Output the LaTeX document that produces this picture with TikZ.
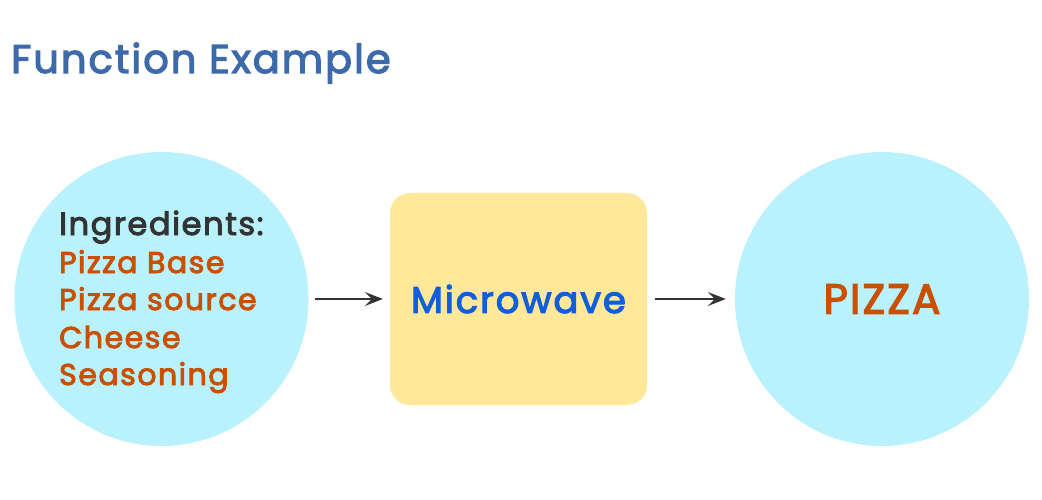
\documentclass[tikz,border=0pt]{standalone}
\usepackage{fontspec}
\setmainfont{Poppins}[LetterSpace=5, FakeBold=3]
\usetikzlibrary{arrows.meta}
\definecolor{titleblue}{HTML}{3D6AAA}
\definecolor{bubble}{HTML}{B9F1FD}
\definecolor{oven}{HTML}{FFE899}
\definecolor{sauce}{HTML}{C85000}
\definecolor{wave}{HTML}{0F5EDC}
\definecolor{ink}{HTML}{333333}
\tikzset{
  ball/.style={circle, fill=bubble, minimum size=294pt, inner sep=0pt},
  txt/.style={anchor=base west, inner sep=0pt},
  flow/.style={-{Stealth[length=18pt,width=14pt,inset=7pt]}, line width=2pt, color=ink}
}

\begin{document}
\begin{tikzpicture}[x=1pt, y=-1pt]
			%%%%% START %%%%%
			\useasboundingbox (0, 0) rectangle (1042, 500);

			\node[txt, color=titleblue, font=\fontsize{40}{46}\selectfont] (title) at (11, 73) {Function Example};

			\node[ball] (input) at (161.5, 299) {};
			\node[draw=none, fill=oven, rounded corners=20pt, minimum width=257pt, minimum height=212pt] (oven) at (518.5, 299) {};
			\node[ball] (output) at (882, 299) {};

			\node[txt, color=ink, font=\fontsize{32}{36}\selectfont] (ingr) at (59, 235) {Ingredients:};
			\node[txt, color=sauce, font=\fontsize{30}{36}\selectfont] (base) at (59, 273) {Pizza Base};
			\node[txt, color=sauce, font=\fontsize{30}{36}\selectfont] (sauce) at (59, 310) {Pizza source};
			\node[txt, color=sauce, font=\fontsize{30}{36}\selectfont] (cheese) at (59, 348) {Cheese};
			\node[txt, color=sauce, font=\fontsize{30}{36}\selectfont] (season) at (59, 385) {Seasoning};

			\node[color=wave, font=\fontsize{37}{44}\selectfont, inner sep=0pt] (micro) at (oven) {Microwave};
			\node[color=sauce, font=\fontsize{42}{48}\selectfont, inner sep=0pt] (pizza) at (output) {PIZZA};

			\draw[flow, shorten <=6pt, shorten >=7pt] (input) -- (oven);
			\draw[flow, shorten <=8pt, shorten >=9pt] (oven) -- (output);
			%%%%% END %%%%%
\end{tikzpicture}
\end{document}
